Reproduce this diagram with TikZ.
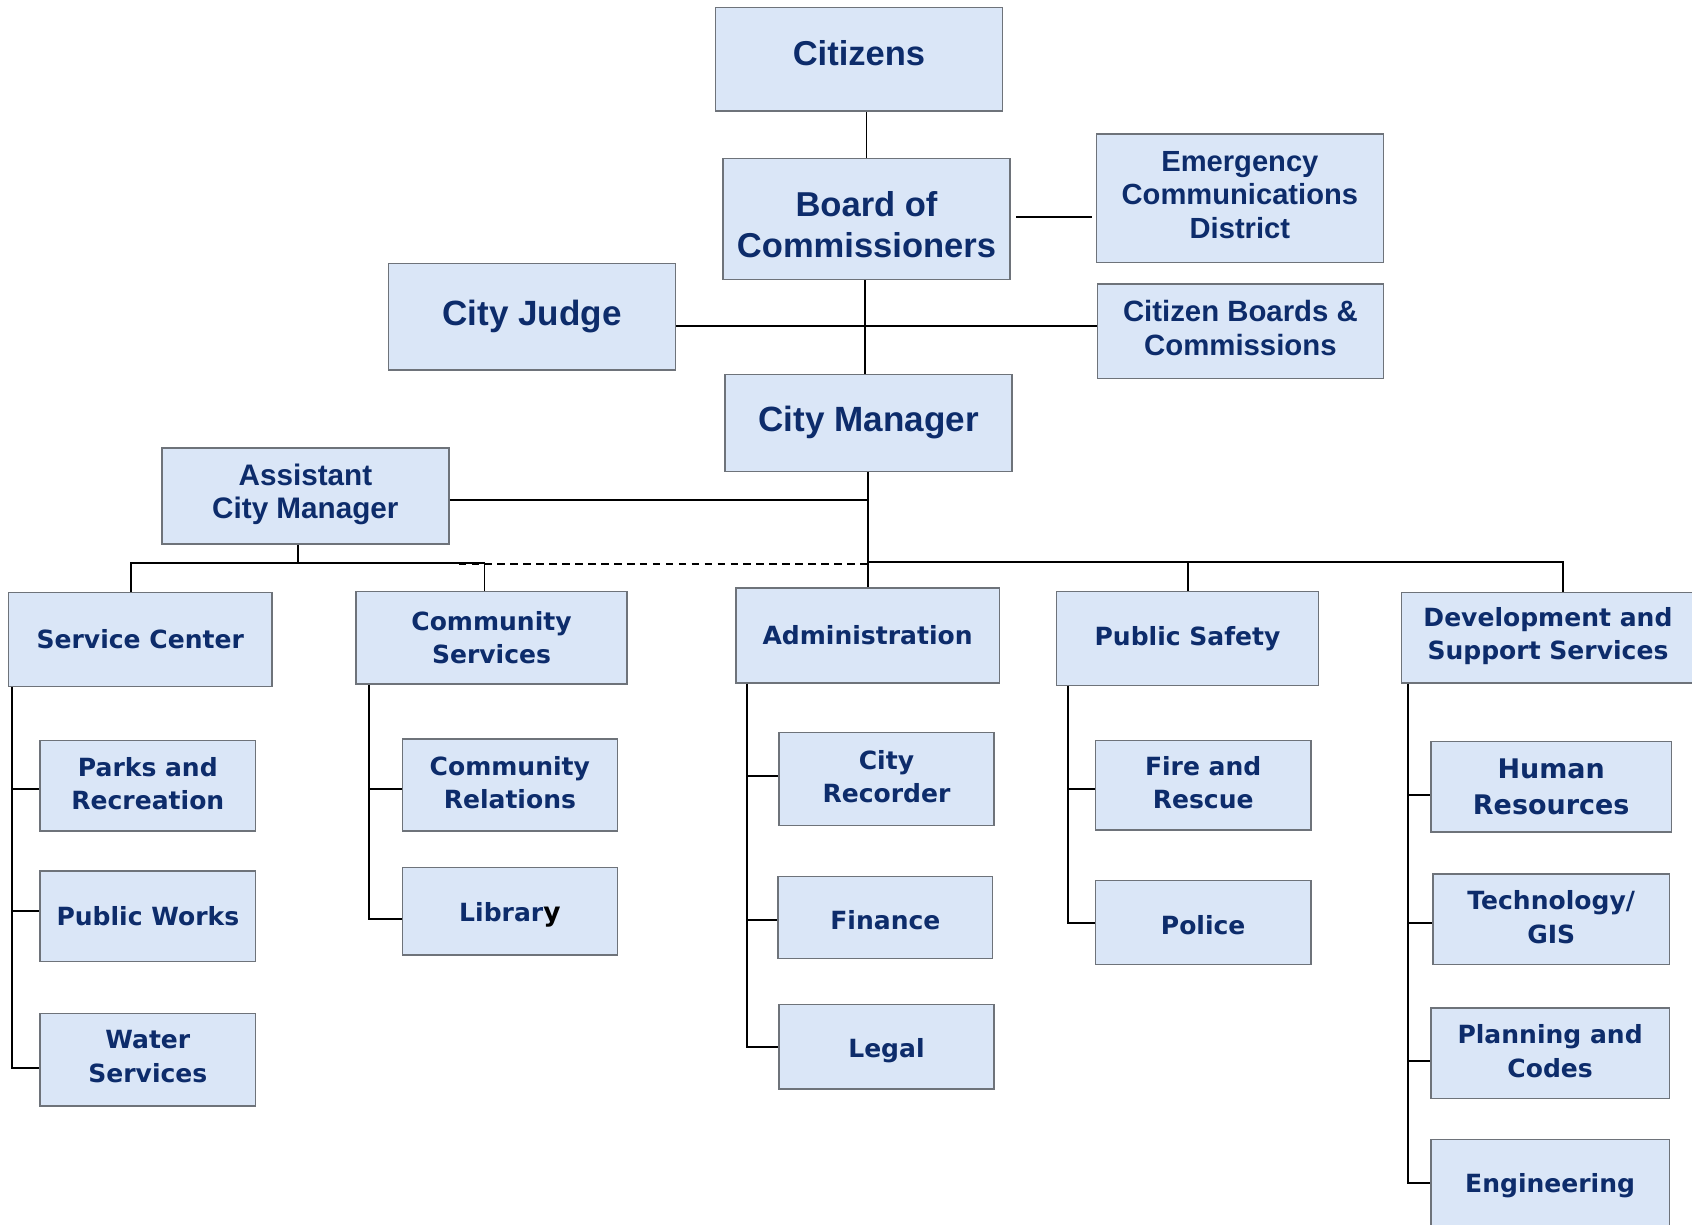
\documentclass[tikz,border=0pt]{standalone}
\usepackage{fontspec}
\newfontfamily\topf{Liberation Sans}
\newfontfamily\botf{DejaVu Sans}
\usetikzlibrary{calc}
\definecolor{fillc}{HTML}{DAE6F7}
\definecolor{bordc}{HTML}{6E737A}
\definecolor{textc}{HTML}{0D2C6B}
\tikzset{
  box/.style={draw=bordc, fill=fillc, line width=1.3pt, text=textc, align=center, inner sep=0pt},
  lbl/.style={text=textc, align=center, inner sep=0pt},
  topbig/.style={font=\topf\bfseries\fontsize{32}{38}\selectfont},
  topmid/.style={font=\topf\bfseries\fontsize{27}{31}\selectfont},
  bot/.style={font=\botf\bfseries\fontsize{23.2}{31}\selectfont},
  botbig/.style={font=\botf\bfseries\fontsize{25}{33}\selectfont},
  conn/.style={draw=black, line width=1.8pt},
  dconn/.style={draw=black, line width=1.8pt, dash pattern=on 7pt off 5pt}
}
\begin{document}
\begin{tikzpicture}[x=1pt,y=-1pt]
\useasboundingbox (0,0) rectangle (1568,1135);
% top level
\node[box, minimum width=266pt, minimum height=96pt] (cit) at (796,55) {};
\node[lbl, topbig] (cittxt) at (796,49) {Citizens};
\node[box, minimum width=266pt, minimum height=112pt] (board) at (803,203) {};
\node[lbl, topbig] (boardtxt) at (803,208) {Board of\\Commissioners};
\node[box, minimum width=266pt, minimum height=119pt] (emerg) at (1149,183.5) {};
\node[lbl, topmid] (emergtxt) at (1149,180.5) {Emergency\\Communications\\District};
\node[box, font=\topf\bfseries\fontsize{32.5}{38}\selectfont, minimum width=266pt, minimum height=99pt] (judge) at (493,293.5) {City Judge};
\node[box, minimum width=265pt, minimum height=88pt] (cbc) at (1149.5,307) {};
\node[lbl, font=\topf\bfseries\fontsize{27.2}{32}\selectfont] (cbctxt) at (1149.5,304) {Citizen Boards \&\\Commissions};
\node[box, font=\topf\bfseries\fontsize{32.5}{38}\selectfont, minimum width=266pt, minimum height=90pt] (cm) at (805,392) {City Manager};
\node[box, font=\topf\bfseries\fontsize{27.5}{31}\selectfont, minimum width=266pt, minimum height=89pt] (acm) at (283,459.5) {};
\node[lbl, font=\topf\bfseries\fontsize{27.5}{31}\selectfont] (acmtxt) at (283,458) {Assistant\\City Manager};
% departments
\node[box, bot, minimum width=244pt, minimum height=87pt] (sc) at (130,592.5) {Service Center};
\node[box, bot, minimum width=251pt, minimum height=86pt] (cs) at (455.5,591) {Community\\Services};
\node[box, bot, minimum width=244pt, minimum height=88pt] (adm) at (804,589) {Administration};
\node[box, bot, minimum width=243pt, minimum height=87pt] (ps) at (1100.5,591.5) {Public Safety};
\node[box, bot, minimum width=271pt, minimum height=84pt] (dev) at (1434.5,591) {};
\node[lbl, bot] (devtxt) at (1434.5,589.5) {Development and\\Support Services};
% sub units
\node[box, bot, minimum width=200pt, minimum height=84pt] (pr) at (137,728) {};
\node[lbl, bot] (prtxt) at (137,726) {Parks and\\Recreation};
\node[box, bot, minimum width=200pt, minimum height=84pt] (pw) at (137,849) {Public Works};
\node[box, bot, minimum width=200pt, minimum height=86pt] (ws) at (137,982) {};
\node[lbl, bot] (wstxt) at (137,979) {Water\\Services};
\node[box, bot, minimum width=199pt, minimum height=85pt] (cr) at (472.5,727.5) {};
\node[lbl, bot] (crtxt) at (472.5,725.5) {Community\\Relations};
\node[box, minimum width=199pt, minimum height=81pt] (lib) at (472.5,844.5) {};
\node[lbl, bot] (libtxt) at (472.5,848) {Librar\textcolor{black}{\fontsize{24.5}{31}\selectfont y}};
\node[box, bot, minimum width=199pt, minimum height=86pt] (crec) at (821.5,722) {};
\node[lbl, bot] (crectxt) at (821.5,719.5) {City\\Recorder};
\node[box, bot, minimum width=199pt, minimum height=76pt] (fin) at (820.5,850) {};
\node[lbl, bot] (fintxt) at (820.5,853) {Finance};
\node[box, bot, minimum width=199pt, minimum height=78pt] (leg) at (821.5,970) {};
\node[lbl, bot] (legtxt) at (821.5,974) {Legal};
\node[box, bot, minimum width=200pt, minimum height=83pt] (fr) at (1115,727.5) {};
\node[lbl, bot] (frtxt) at (1115,725.5) {Fire and\\Rescue};
\node[box, bot, minimum width=200pt, minimum height=78pt] (pol) at (1115,855) {};
\node[lbl, bot] (poltxt) at (1115,857.5) {Police};
\node[box, botbig, minimum width=223pt, minimum height=84pt] (hr) at (1437.5,729) {Human\\Resources};
\node[box, bot, minimum width=219pt, minimum height=84pt] (tg) at (1437.5,852) {};
\node[lbl, bot] (tgtxt) at (1437.5,850) {Technology/\\GIS};
\node[box, bot, minimum width=221pt, minimum height=84pt] (pc) at (1436.5,976) {};
\node[lbl, bot] (pctxt) at (1436.5,974) {Planning and\\Codes};
\node[box, bot, minimum width=221pt, minimum height=82pt] (eng) at (1436.5,1097) {};
\node[lbl, bot] (engtxt) at (1436.5,1098.5) {Engineering};
% trunk coordinates
\coordinate (hj) at (802,302);
\coordinate (ha) at (804,463);
\coordinate (bus) at (804,521);
\coordinate (dbus) at (804,523);
\coordinate (abus) at (276,522);
% top connectors
\draw[conn] (board.north -| 803,0) -- (cit.south -| 803,0);
\draw[conn] ([xshift=5pt,yshift=2pt]board.east) -- ([xshift=-3pt,yshift=2pt]board.east -| emerg.west);
\draw[conn] (judge.east |- hj) -- (cbc.west |- hj);
\draw[conn] (board.south -| hj) -- (cm.north -| hj);
\draw[conn] (cm.south -| adm.north) -- (adm.north);
\draw[conn] (acm.east |- ha) -- (ha);
\draw[conn] (bus) -- (1448,521) -- (dev.north -| 1448,0);
\draw[conn] (ps.north |- bus) -- (ps.north);
\draw[dconn] (425,523) -- (dbus);
\draw[conn] (acm.south -| abus) -- (abus);
\draw[conn] (sc.north -| 121,0) -- (121,522) -- (449,522) -- (cs.north -| 449,0);
% Service Center
\draw[conn] (sc.south -| 11,0) |- (pr.west |- 0,731);
\draw[conn] (sc.south -| 11,0) |- (pw.west |- 0,844);
\draw[conn] (sc.south -| 11,0) |- (ws.west |- 0,990);
% Community Services
\draw[conn] (cs.south -| 342,0) |- (cr.west |- 0,731);
\draw[conn] (cs.south -| 342,0) |- (lib.west |- 0,852);
% Administration
\draw[conn] (adm.south -| 692,0) |- (crec.west |- 0,719);
\draw[conn] (adm.south -| 692,0) |- (fin.west |- 0,853);
\draw[conn] (adm.south -| 692,0) |- (leg.west |- 0,970);
% Public Safety
\draw[conn] (ps.south -| 990,0) |- (fr.west |- 0,731);
\draw[conn] (ps.south -| 990,0) |- (pol.west |- 0,855);
% Development
\draw[conn] (dev.south -| 1305,0) |- (hr.west |- 0,737);
\draw[conn] (dev.south -| 1305,0) |- (tg.west |- 0,855);
\draw[conn] (dev.south -| 1305,0) |- (pc.west |- 0,983);
\draw[conn] (dev.south -| 1305,0) |- (eng.west |- 0,1096);
\end{tikzpicture}
\end{document}
